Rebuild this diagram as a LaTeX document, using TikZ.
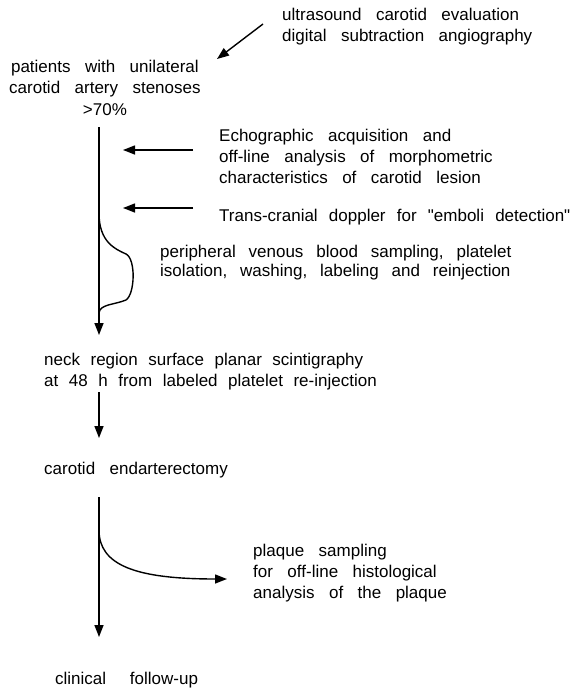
\documentclass[tikz,border=0pt]{standalone}
\usepackage{fontspec}
\setmainfont{Liberation Sans}
\newfontfamily\qtfont{Liberation Sans}
\usepackage{tikz}
\usetikzlibrary{arrows.meta}
\newcommand{\wordgap}[1]{\spaceskip=#1 plus 0.2em\relax}
\newcommand{\qt}{{\qtfont\symbol{34}}}

\begin{document}
\begin{tikzpicture}[
  x=1pt, y=-1pt,
  txt/.style={anchor=base west, inner sep=0pt, align=left,
    font=\fontsize{17}{21}\selectfont\wordgap{0.85em}},
  arrow/.style={line width=1.4pt, -{Triangle[length=12pt,width=9pt]}},
  flow/.style={line width=1.4pt}
]
\useasboundingbox (0,0) rectangle (577,690);

% Texts
\node[txt] (exams) at (282,42) {ultrasound carotid evaluation\\digital subtraction angiography};
\node[txt, align=center] (patients) at (9,115) {patients with unilateral\\carotid artery stenoses\\>70\%};
\node[txt] (echo) at (219,183) {Echographic acquisition and\\off-line analysis of morphometric\\characteristics of carotid lesion};
\node[txt, font=\fontsize{17}{21}\selectfont\wordgap{0.66em}] (doppler) at (219,221) {Trans-cranial doppler for \qt emboli detection\qt};
\node[txt, font=\fontsize{17}{19}\selectfont\wordgap{0.76em}] (sampling) at (160,276) {peripheral venous blood sampling, platelet\\isolation, washing, labeling and reinjection};
\node[txt, font=\fontsize{17}{21}\selectfont\wordgap{0.62em}] (scinti) at (44,386) {neck region surface planar scintigraphy\\at 48 h from labeled platelet re-injection};
\node[txt] (surgery) at (44,474) {carotid endarterectomy};
\node[txt] (plaque) at (253,598) {plaque sampling\\for off-line histological\\analysis of the plaque};
\node[txt, font=\fontsize{17}{21}\selectfont\wordgap{1.4em}] (followup) at (55,684) {clinical follow-up};

% Points on the main line
\coordinate (p1) at (99,127);
\coordinate (p2) at (99,335);
\coordinate (s1) at (99,392);
\coordinate (s2) at (99,438);
\coordinate (c1) at (99,497);
\coordinate (c2) at (99,637);
\coordinate (a0) at (263,24);
\coordinate (a1) at (217,59);
\coordinate (e0) at (193,150);
\coordinate (e1) at (123,150);
\coordinate (d0) at (193,208);
\coordinate (d1) at (123,208);
\coordinate (b0) at (99,213);
\coordinate (b1) at (99,313);
\coordinate (q0) at (99,530);
\coordinate (q1) at (227,579);

% Connections
\draw[arrow] (a0) -- (a1);
\draw[arrow] (p1) -- (p2);
\draw[arrow] (e0) -- (e1);
\draw[arrow] (d0) -- (d1);
\draw[arrow] (s1) -- (s2);
\draw[arrow] (c1) -- (c2);
\draw[arrow] (q0) .. controls (99,565) and (135,579) .. (q1);

% Brace
\draw[flow] (b0) .. controls (99,242) and (115,249) .. (126,254)
  .. controls (136,259) and (135,294) .. (126,300)
  .. controls (114,305) and (100,304) .. (b1);

\end{tikzpicture}
\end{document}
